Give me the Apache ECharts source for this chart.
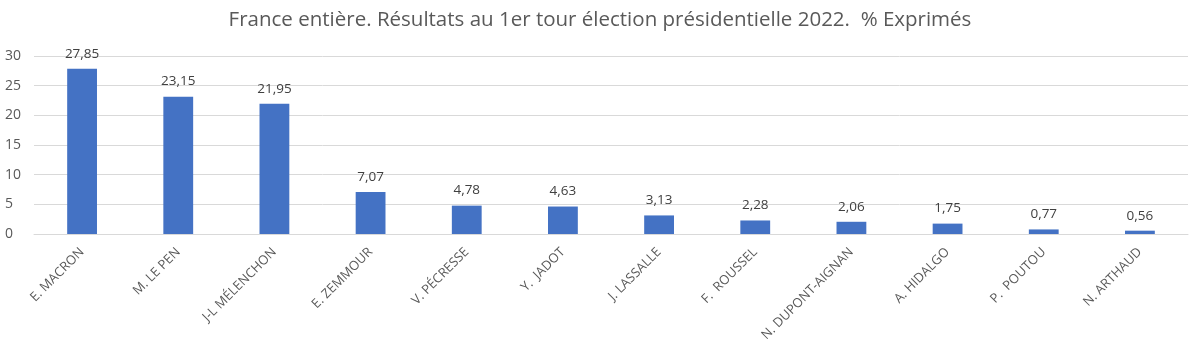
<!DOCTYPE html>
<html><head><meta charset="utf-8">
<script src="https://cdn.jsdelivr.net/npm/echarts@6/dist/echarts.min.js"></script>
<style>html,body{margin:0;padding:0;background:#fff}#c{width:1200px;height:351px}</style>
</head><body><div id="c"></div>
<script>
const titleText = 'France entière. Résultats au 1er tour élection présidentielle 2022.  % Exprimés';
const categories = ['E. MACRON','M. LE PEN','J-L MÉLENCHON','E. ZEMMOUR','V. PÉCRESSE','Y.  JADOT','J. LASSALLE','F.  ROUSSEL','N. DUPONT-AIGNAN','A. HIDALGO','P.  POUTOU','N. ARTHAUD'];
const values = [27.85,23.15,21.95,7.07,4.78,4.63,3.13,2.28,2.06,1.75,0.77,0.56];
const yTicks = [0,5,10,15,20,25,30];
const FONT = '"Open Sans", sans-serif';
const chart = echarts.init(document.getElementById('c'));
chart.setOption({
  animation:false,
  title:{text:titleText,left:'center',top:5,textStyle:{fontFamily:FONT,fontWeight:'normal',fontSize:20.5,color:'#595959'}},
  grid:{left:34,right:12,top:56,bottom:117},
  xAxis:{type:'category',data:categories,
    axisLine:{lineStyle:{color:'#d9d9d9'}},axisTick:{show:false},
    axisLabel:{interval:0,rotate:45,fontFamily:FONT,fontSize:13,color:'#595959',margin:16}},
  yAxis:{type:'value',min:yTicks[0],max:yTicks[yTicks.length-1],interval:5,
    axisLine:{show:false},axisTick:{show:false},
    splitLine:{lineStyle:{color:'#d9d9d9'}},
    axisLabel:{fontFamily:FONT,fontSize:14,color:'#595959',margin:29,align:'left'}},
  series:[{type:'bar',data:values,barWidth:'31%',itemStyle:{color:'#4472C4'},
    label:{show:true,position:'top',distance:8,fontFamily:FONT,fontSize:13.5,color:'#404040',
      formatter:p=>p.value.toFixed(2).replace('.',',')}}]
});
</script></body></html>
